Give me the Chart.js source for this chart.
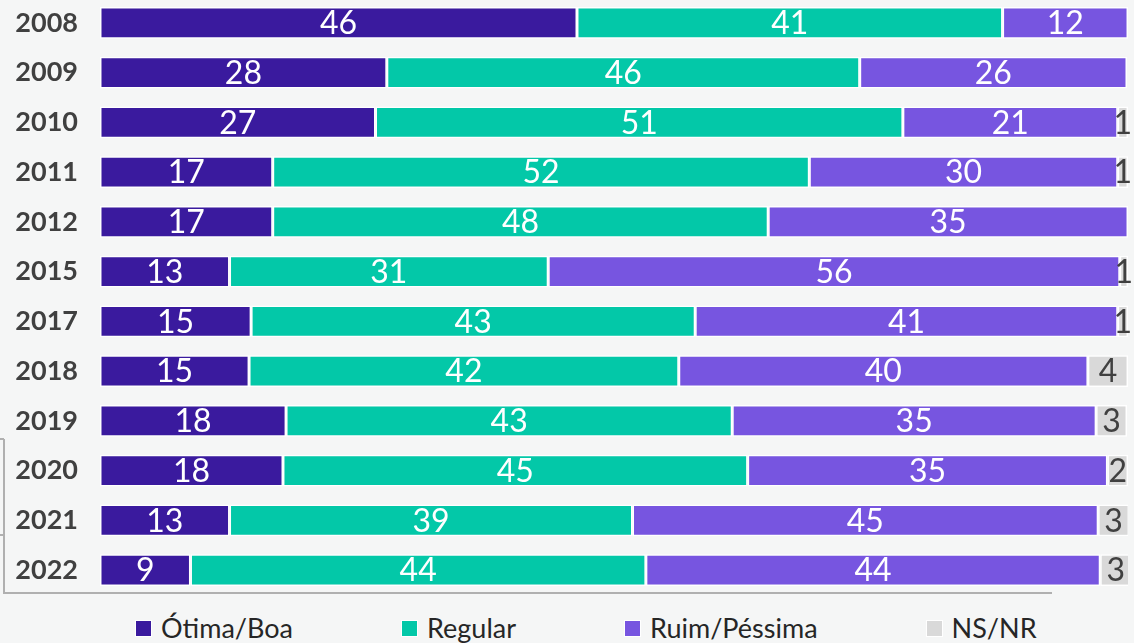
<!DOCTYPE html>
<html>
<head>
<meta charset="utf-8">
<script src="https://cdn.jsdelivr.net/npm/chart.js@4"></script>
<style>
    html, body { margin: 0; padding: 0; background: #f5f6f6; }
    body { width: 1134px; height: 643px; overflow: hidden; position: relative; font-family: "Liberation Sans Narrow", "Lato", sans-serif; }
    #wrap { position: absolute; left: 0; top: -2px; width: 1134px; height: 597px; }
    #legend { position: absolute; left: 135px; top: 613px; display: flex; gap: 108px; font-size: 27px; color: #262626; line-height: 30px; }
    #legend span.item { display: flex; align-items: center; }
    #legend i { display: inline-block; width: 15px; height: 15px; margin-right: 9px; border: 1px solid #fff; }
</style>
</head>
<body>
<div id="wrap"><canvas id="chart"></canvas></div>
<div id="legend"></div>
<script>
// data (segment widths), labels show rounded values
const years = ['2008', '2009', '2010', '2011', '2012', '2015', '2017', '2018', '2019', '2020', '2021', '2022'];
const otimaBoa = [46.4, 27.9, 26.8, 16.8, 16.8, 12.6, 14.7, 14.5, 18.1, 17.8, 12.6, 8.8];
const regular = [41.4, 46.0, 51.3, 52.2, 48.2, 31.0, 43.2, 41.8, 43.4, 45.2, 39.2, 44.3];
const ruimPessima = [12.2, 26.0, 20.9, 30.0, 35.0, 55.6, 41.1, 39.8, 35.4, 35.0, 45.3, 44.2];
const nsnr = [0, 0, 1.0, 1.0, 0, 0.8, 1.0, 3.9, 3.0, 2.0, 3.0, 3.0];
const seriesNames = ['Ótima/Boa', 'Regular', 'Ruim/Péssima', 'NS/NR'];
const seriesColors = ['#3a1a9e', '#03c8a8', '#7755e0', '#d9d9d9'];
const labelColors = ['#ffffff', '#ffffff', '#ffffff', '#404040'];

const FONT = '"Liberation Sans Narrow", "Lato", sans-serif';

// number labels in the middle of each segment
const barLabels = {
    id: 'barLabels',
    afterDatasetsDraw(chart) {
        const ctx = chart.ctx;
        ctx.save();
        ctx.font = '32px ' + FONT;
        ctx.textAlign = 'center';
        ctx.textBaseline = 'middle';
        chart.data.datasets.forEach((ds, i) => {
            const meta = chart.getDatasetMeta(i);
            meta.data.forEach((bar, j) => {
                const v = ds.data[j];
                if (!v) return;
                const x = (bar.base + bar.x) / 2;
                ctx.fillStyle = labelColors[i];
                ctx.fillText(Math.round(v), x, bar.y + 1);
            });
        });
        ctx.restore();
    }
};

// grey frame lines left over at the left/bottom of the original
const frameLines = {
    id: 'frameLines',
    beforeDraw(chart) {
        const ctx = chart.ctx;
        ctx.save();
        ctx.strokeStyle = '#b0b0b0';
        ctx.lineWidth = 2;
        ctx.beginPath();
        ctx.moveTo(0, 441); ctx.lineTo(4, 441);
        ctx.moveTo(4, 441); ctx.lineTo(4, 596);
        ctx.moveTo(0, 537); ctx.lineTo(4, 537);
        ctx.moveTo(4, 595); ctx.lineTo(1052, 595);
        ctx.stroke();
        ctx.restore();
    }
};

const allSeries = [otimaBoa, regular, ruimPessima, nsnr];

new Chart(document.getElementById('chart').getContext('2d'), {
    type: 'bar',
    data: {
        labels: years,
        datasets: allSeries.map((d, i) => ({
            label: seriesNames[i],
            data: d,
            backgroundColor: seriesColors[i],
            borderColor: '#ffffff',
            borderWidth: 1.5,
            borderSkipped: false,
            barPercentage: 0.64,
            categoryPercentage: 1
        }))
    },
    options: {
        indexAxis: 'y',
        responsive: true,
        maintainAspectRatio: false,
        animation: false,
        layout: { padding: { left: 0, right: 6, top: 0, bottom: 0 } },
        plugins: {
            legend: { display: false },
            tooltip: { enabled: false }
        },
        scales: {
            x: {
                stacked: true,
                display: false,
                min: 0,
                max: 100
            },
            y: {
                stacked: true,
                grid: { display: false, drawTicks: false },
                border: { display: false },
                ticks: {
                    padding: 22,
                    color: '#404040',
                    font: { family: FONT, size: 27, weight: 'bold' }
                },
                afterFit(scale) {
                    scale.width = 100;
                    scale.paddingTop = 0;
                    scale.paddingBottom = 0;
                }
            }
        }
    },
    plugins: [barLabels, frameLines]
});

// legend as html
const legend = document.getElementById('legend');
seriesNames.forEach((name, i) => {
    const item = document.createElement('span');
    item.className = 'item';
    const box = document.createElement('i');
    box.style.background = seriesColors[i];
    item.appendChild(box);
    item.appendChild(document.createTextNode(name));
    legend.appendChild(item);
});
</script>
</body>
</html>
